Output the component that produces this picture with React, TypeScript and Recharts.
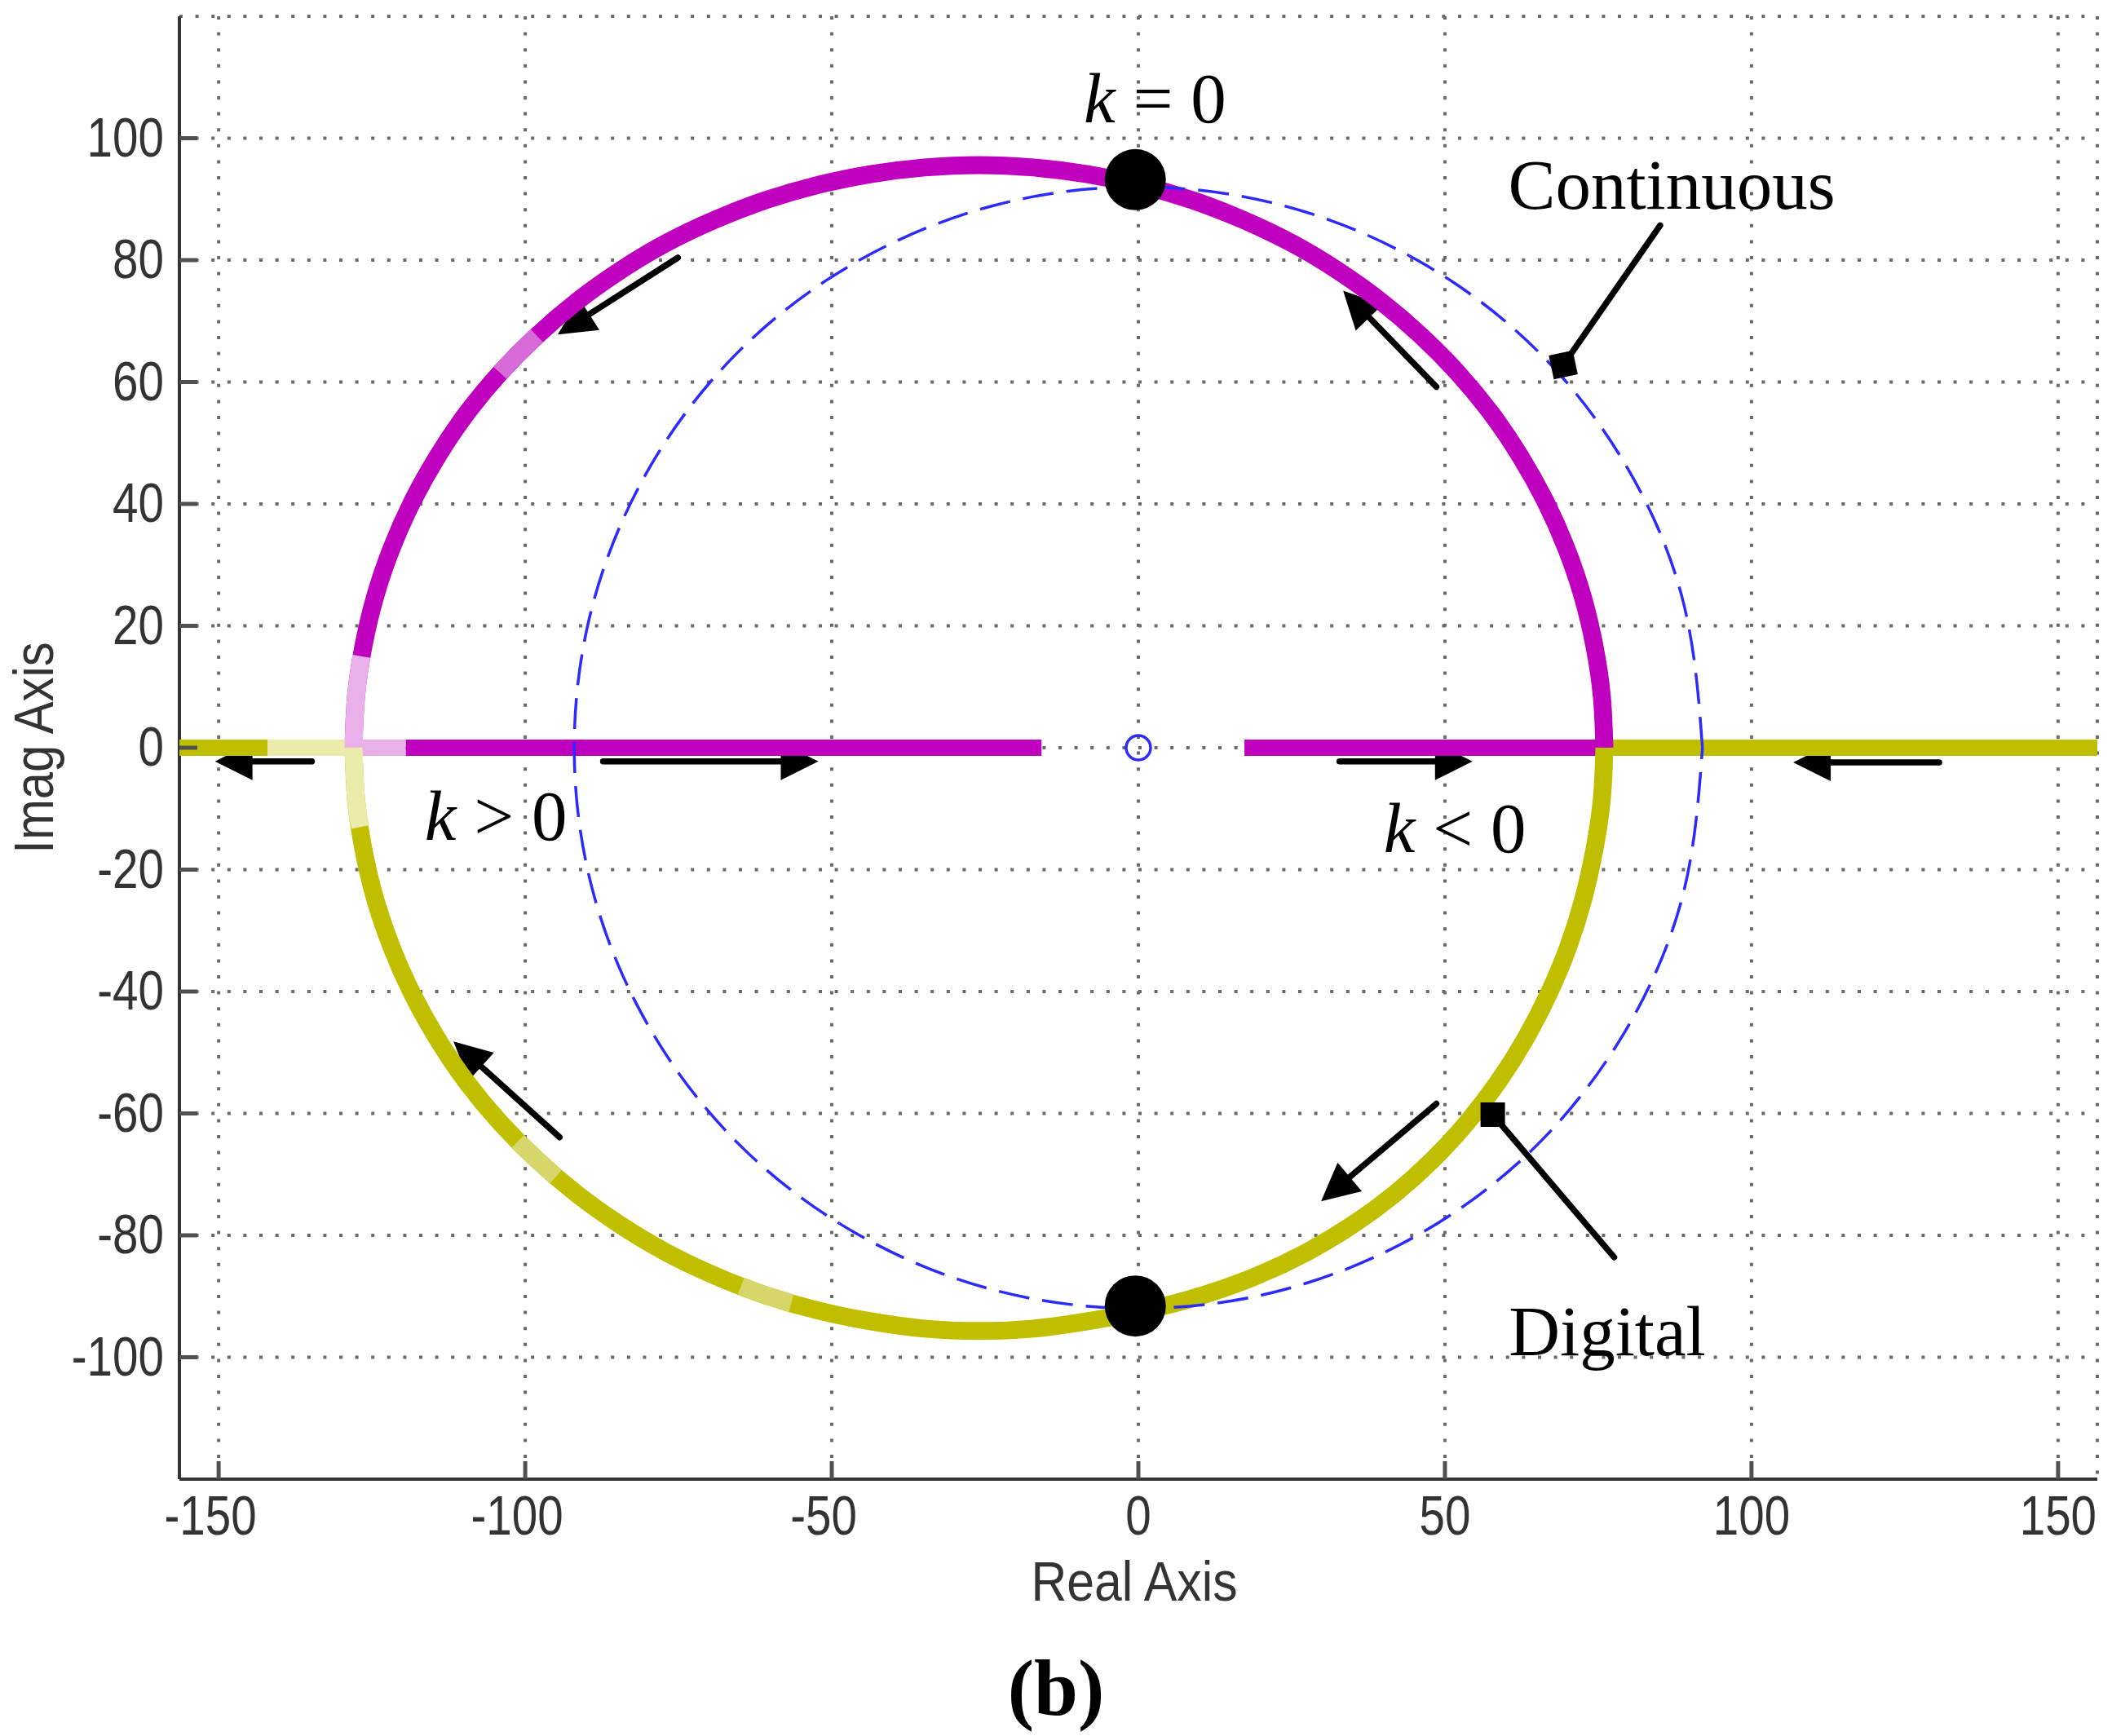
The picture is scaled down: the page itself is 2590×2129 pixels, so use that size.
import React from 'react';
import {
  ScatterChart, Scatter, XAxis, YAxis, CartesianGrid, ReferenceLine, ReferenceDot,
} from 'recharts';

// ---------- axes ----------
const xTicks = [-150, -100, -50, 0, 50, 100, 150];
const yTicks = [-100, -80, -60, -40, -20, 0, 20, 40, 60, 80, 100];
const xDomain = [-156.4, 156.4];
const yDomain = [-120, 120];

// ---------- digital root locus (upper branch, magenta) ----------
const digitalUpperArc = [
  [-128, 0], [-127.6, 8.3], [-126.4, 16.6], [-124.5, 24.7], [-121.8, 32.7], [-118.4, 40.4],
  [-114.3, 47.8], [-109.6, 54.8], [-104.1, 61.5], [-98.1, 67.6], [-91.6, 73.2], [-84.5, 78.3],
  [-77.0, 82.8], [-69.1, 86.6], [-60.9, 89.8], [-52.4, 92.3], [-43.7, 94.1], [-34.9, 95.2],
  [-26, 95.6], [-17.1, 95.2], [-8.3, 94.1], [0.4, 92.3], [8.9, 89.8], [17.1, 86.6],
  [25.0, 82.8], [32.5, 78.3], [39.6, 73.2], [46.1, 67.6], [52.1, 61.5], [57.6, 54.8],
  [62.3, 47.8], [66.4, 40.4], [69.8, 32.7], [72.5, 24.7], [74.4, 16.6], [75.6, 8.3], [76, 0],
];
// ---------- digital root locus (lower branch, olive) ----------
const digitalLowerArc = [
  [-128, 0], [-127.6, -8.3], [-126.4, -16.6], [-124.5, -24.7], [-121.8, -32.7], [-118.4, -40.4],
  [-114.3, -47.8], [-109.6, -54.8], [-104.1, -61.5], [-98.1, -67.6], [-91.6, -73.2], [-84.5, -78.3],
  [-77.0, -82.8], [-69.1, -86.6], [-60.9, -89.8], [-52.4, -92.3], [-43.7, -94.1], [-34.9, -95.3],
  [-26, -95.7], [-17.1, -95.3], [-8.3, -94.1], [1.2, -92.3], [10.6, -89.8], [19.4, -86.6],
  [27.4, -82.8], [34.9, -78.3], [41.8, -73.2], [48.0, -67.6], [53.6, -61.5], [58.7, -54.8],
  [63.1, -47.8], [66.9, -40.4], [70.1, -32.7], [72.6, -24.7], [74.4, -16.6], [75.6, -8.3], [76, 0],
];
const realAxisMagentaLeft = [[-119.5, 0], [-15.8, 0]];
const realAxisMagentaRight = [[17.3, 0], [76, 0]];
const realAxisOliveLeft = [[-156.4, 0], [-142, 0]];
const realAxisOliveRight = [[76, 0], [156.4, 0]];
// sparse-marker (faded) stretches of the digital locus
const fadedOliveAxis = [[-142, 0], [-128, 0]];
const fadedMagentaAxis = [[-128, 0], [-119.5, 0]];
const fadedMagentaArc = [[-128, 0], [-127.6, 8.3], [-126.7, 15]];
const fadedOliveArc = [[-128, 0], [-127.6, -8.3], [-126.9, -13]];
const halfFadedMagentaArc = [[-104.1, 61.5], [-101.2, 64.6], [-98.1, 67.6]];
const halfFadedOliveArc1 = [[-101.2, -64.6], [-98.1, -67.6], [-95, -70.4]];
const halfFadedOliveArc2 = [[-64.8, -88.3], [-60.9, -89.8], [-56.6, -91.1]];

// ---------- continuous root locus (blue dashed) ----------
const continuousLocus = [
  [92, 0], [88.9, 23.8], [79.7, 46], [65.1, 65.1], [46, 79.7], [23.8, 88.9], [0, 92],
  [-23.8, 88.9], [-46, 79.7], [-65.1, 65.1], [-79.7, 46], [-88.9, 23.8], [-92, 0],
  [-88.9, -23.8], [-79.7, -46], [-65.1, -65.1], [-46, -79.7], [-23.8, -88.9], [0, -92],
  [23.8, -88.9], [46, -79.7], [65.1, -65.1], [79.7, -46], [88.9, -23.8], [92, 0],
];
const zeros = [[0, 0]];
const poles = [[-0.5, 93.2], [-0.5, -91.6]];

// ---------- arrows [tailX, tailY, tipX, tipY] ----------
const arrows = [
  [-75.1, 80.4, -94.7, 67.8],
  [48.6, 59.2, 33.4, 75.0],
  [-94.4, -63.9, -111.7, -48.2],
  [48.6, -58.4, 29.8, -74.4],
  [-134.8, -2.25, -150.6, -2.25],
  [-87.3, -2.25, -52.2, -2.25],
  [32.8, -2.25, 54.5, -2.25],
  [130.6, -2.4, 106.8, -2.4],
];
// ---------- leader lines [textEndX, textEndY, squareX, squareY, squareAngle] ----------
const leaders = [
  [85.1, 85.7, 69.3, 62.8, -12],
  [77.6, -83.6, 57.8, -60.2, 0],
];
// ---------- annotations ----------
const mathLabels = [
  { x: -8.9, y: 102.6, sym: 'k', rest: ' = 0' },
  { x: -116.4, y: -15.1, sym: 'k', rest: ' > 0' },
  { x: 40.0, y: -17.1, sym: 'k', rest: ' < 0' },
];
const wordLabels = [
  { x: 60.3, y: 88.4, text: 'Continuous' },
  { x: 60.4, y: -99.6, text: 'Digital' },
];

const pts = (a: number[][]) => a.map(([x, y]) => ({ x, y }));

const MAGENTA = '#bf00bf';
const OLIVE = '#bfbf00';
const MAGENTA_FADED = '#eab0ea';
const OLIVE_FADED = '#ebebab';
const MAGENTA_HALF = '#d66ad6';
const OLIVE_HALF = '#d6d66a';
const BLUE = '#2b2bff';
const SANS = "'Liberation Sans', Arial, Helvetica, sans-serif";
const SERIF = "'Liberation Serif', 'Times New Roman', Times, serif";
const LABEL_COLOR = '#333333';
const TICK_COLOR = '#505050';
const TICK_LEN = 22;

const noPoint = () => <g />;

function BottomTick(p: any) {
  const { x, y, payload } = p;
  const v = payload.value;
  return (
    <g>
      <line x1={x} y1={y} x2={x} y2={y - TICK_LEN} stroke={TICK_COLOR} strokeWidth={5} />
      <text
        transform={`translate(${x + (v < 0 ? -10 : 0)},${y + 68}) scale(0.82,1)`}
        textAnchor="middle" fontFamily={SANS} fontSize={69} fill={LABEL_COLOR}
      >{String(v)}</text>
    </g>
  );
}
function TopTick(p: any) {
  const { x, y } = p;
  return <line x1={x} y1={y} x2={x} y2={y + TICK_LEN} stroke={TICK_COLOR} strokeWidth={5} />;
}
function LeftTick(p: any) {
  const { x, y, payload } = p;
  return (
    <g>
      <line x1={x} y1={y} x2={x + TICK_LEN} y2={y} stroke={TICK_COLOR} strokeWidth={5} />
      <text
        transform={`translate(${x - 19},${y}) scale(0.82,1)`}
        dy="0.32em" textAnchor="end" fontFamily={SANS} fontSize={69} fill={LABEL_COLOR}
      >{String(payload.value)}</text>
    </g>
  );
}
function RightTick(p: any) {
  const { x, y } = p;
  return <line x1={x} y1={y} x2={x - TICK_LEN} y2={y} stroke={TICK_COLOR} strokeWidth={5} />;
}

function xTitle(lp: any) {
  const vb = lp.viewBox || {};
  const cx = vb.x + vb.width / 2;
  return (
    <g>
      <text transform={`translate(${cx - 5},${vb.y + 149}) scale(0.88,1)`} textAnchor="middle"
        fontFamily={SANS} fontSize={69} fill={LABEL_COLOR}>Real Axis</text>
      <text x={cx - 101} y={vb.y + 289} textAnchor="middle" fontFamily={SERIF}
        fontWeight="bold" fontSize={97} fill="#000">(b)</text>
    </g>
  );
}
function yTitle(lp: any) {
  const vb = lp.viewBox || {};
  const cy = vb.y + vb.height / 2;
  return (
    <text transform={`translate(65,${cy}) rotate(-90) scale(0.88,1)`} textAnchor="middle"
      fontFamily={SANS} fontSize={68} fill={LABEL_COLOR}>Imag Axis</text>
  );
}

function arrowShape(p: any) {
  const { x1, y1, x2, y2 } = p;
  const dx = x2 - x1;
  const dy = y2 - y1;
  const len = Math.hypot(dx, dy) || 1;
  const ux = dx / len;
  const uy = dy / len;
  const hl = 46;
  const hw = 23;
  const bx = x2 - ux * hl;
  const by = y2 - uy * hl;
  const px = -uy;
  const py = ux;
  return (
    <g>
      <line x1={x1} y1={y1} x2={bx + ux * 6} y2={by + uy * 6} stroke="#000" strokeWidth={7.5}
        strokeLinecap="round" />
      <polygon points={`${x2},${y2} ${bx + px * hw},${by + py * hw} ${bx - px * hw},${by - py * hw}`}
        fill="#000" />
    </g>
  );
}
function leaderShape(p: any) {
  const { x1, y1, x2, y2 } = p;
  return <line x1={x1} y1={y1} x2={x2} y2={y2} stroke="#000" strokeWidth={7.5} strokeLinecap="round" />;
}

function series(name: string, data: number[][], color: string, width: number, extra: any = {}) {
  const { joint, ...rest } = extra;
  return (
    <Scatter
      key={name}
      name={name}
      data={pts(data)}
      shape={noPoint}
      line={{ stroke: color, strokeWidth: width, fill: 'none', strokeLinejoin: 'round', ...rest }}
      lineJointType={joint || 'natural'}
      isAnimationActive={false}
    />
  );
}

export default function App() {
  return (
    <div style={{ position: 'absolute', left: 0, top: 0, width: 2590, height: 2129, background: '#fff' }}>
      <ScatterChart width={2590} height={2129} margin={{ top: 20, right: 18, bottom: 195, left: 20 }}>
        <XAxis
          type="number" dataKey="x" domain={xDomain} ticks={xTicks} interval={0}
          allowDataOverflow height={120} tickSize={0} tickMargin={0} tickLine={false}
          axisLine={{ stroke: '#333', strokeWidth: 4 }} tick={BottomTick} label={xTitle}
        />
        <XAxis
          xAxisId="top" orientation="top" type="number" dataKey="x" domain={xDomain} ticks={xTicks}
          interval={0} allowDataOverflow height={0} tickSize={0} tickMargin={0} tickLine={false}
          axisLine={{ stroke: '#333', strokeWidth: 4 }} tick={TopTick}
        />
        <YAxis
          type="number" dataKey="y" domain={yDomain} ticks={yTicks} interval={0}
          allowDataOverflow width={200} tickSize={0} tickMargin={0} tickLine={false}
          axisLine={{ stroke: '#333', strokeWidth: 4 }} tick={LeftTick} label={yTitle}
        />
        <YAxis
          yAxisId="right" orientation="right" type="number" dataKey="y" domain={yDomain}
          ticks={yTicks} interval={0} allowDataOverflow width={0} tickSize={0} tickMargin={0}
          tickLine={false} axisLine={{ stroke: '#333', strokeWidth: 4 }} tick={RightTick}
        />

        {series('realOliveLeft', realAxisOliveLeft, OLIVE, 20, { joint: 'linear', strokeLinecap: 'butt' })}
        {series('realOliveRight', realAxisOliveRight, OLIVE, 20, { joint: 'linear', strokeLinecap: 'butt' })}
        {series('realMagentaLeft', realAxisMagentaLeft, MAGENTA, 20, { joint: 'linear', strokeLinecap: 'butt' })}
        {series('realMagentaRight', realAxisMagentaRight, MAGENTA, 20, { joint: 'linear', strokeLinecap: 'butt' })}
        {series('upperArc', digitalUpperArc, MAGENTA, 22)}
        {series('lowerArc', digitalLowerArc, OLIVE, 22)}
        {series('fadedOliveAxis', fadedOliveAxis, OLIVE_FADED, 20, { joint: 'linear', strokeLinecap: 'butt' })}
        {series('fadedMagentaAxis', fadedMagentaAxis, MAGENTA_FADED, 20, { joint: 'linear', strokeLinecap: 'butt' })}
        {series('fadedMagentaArc', fadedMagentaArc, MAGENTA_FADED, 22, { strokeLinecap: 'butt' })}
        {series('fadedOliveArc', fadedOliveArc, OLIVE_FADED, 22, { strokeLinecap: 'butt' })}
        {series('halfMagentaArc', halfFadedMagentaArc, MAGENTA_HALF, 22, { strokeLinecap: 'butt' })}
        {series('halfOliveArc1', halfFadedOliveArc1, OLIVE_HALF, 22, { strokeLinecap: 'butt' })}
        {series('halfOliveArc2', halfFadedOliveArc2, OLIVE_HALF, 22, { strokeLinecap: 'butt' })}
        {series('continuous', continuousLocus, BLUE, 3.5, { strokeDasharray: '38 16' })}
        <Scatter
          name="zero" data={pts(zeros)} isAnimationActive={false}
          shape={(p: any) => <circle cx={p.cx} cy={p.cy} r={15} fill="none" stroke={BLUE} strokeWidth={3.5} />}
        />

        <CartesianGrid stroke="#6a6a6a" strokeWidth={4} strokeDasharray="4 15.6" />

        {arrows.map((a, i) => (
          <ReferenceLine key={`ar${i}`} segment={[{ x: a[0], y: a[1] }, { x: a[2], y: a[3] }]}
            shape={arrowShape} />
        ))}
        {leaders.map((l, i) => (
          <ReferenceLine key={`ld${i}`} segment={[{ x: l[0], y: l[1] }, { x: l[2], y: l[3] }]}
            shape={leaderShape} />
        ))}
        {leaders.map((l, i) => (
          <ReferenceDot key={`sq${i}`} x={l[2]} y={l[3]} r={15}
            shape={(p: any) => (
              <rect x={p.cx - 15} y={p.cy - 15} width={30} height={30} fill="#000"
                transform={`rotate(${l[4]} ${p.cx} ${p.cy})`} />
            )} />
        ))}
        {poles.map((pp, i) => (
          <ReferenceDot key={`pole${i}`} x={pp[0]} y={pp[1]} r={37.5} fill="#000" stroke="none" />
        ))}
        {mathLabels.map((m, i) => (
          <ReferenceDot key={`ml${i}`} x={m.x} y={m.y} r={1}
            shape={(p: any) => (
              <text x={p.cx} y={p.cy} fontFamily={SERIF} fontSize={87} fill="#000"
                style={{ whiteSpace: 'pre' }}>
                <tspan fontStyle="italic">{m.sym}</tspan>
                <tspan>{m.rest}</tspan>
              </text>
            )} />
        ))}
        {wordLabels.map((w, i) => (
          <ReferenceDot key={`wl${i}`} x={w.x} y={w.y} r={1}
            shape={(p: any) => (
              <text x={p.cx} y={p.cy} fontFamily={SERIF} fontSize={87} fill="#000">{w.text}</text>
            )} />
        ))}
      </ScatterChart>
    </div>
  );
}
